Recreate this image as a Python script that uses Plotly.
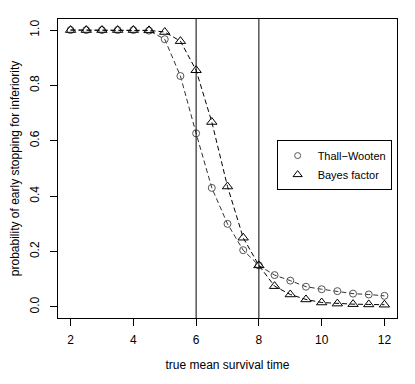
import plotly.graph_objects as go

mean_time = [2, 2.5, 3, 3.5, 4, 4.5, 5, 5.5, 6, 6.5, 7, 7.5, 8, 8.5, 9, 9.5, 10, 10.5, 11, 11.5, 12]
thall_wooten = [1.0, 1.0, 1.0, 1.0, 1.0, 0.998, 0.967, 0.834, 0.627, 0.43, 0.30, 0.205, 0.15,
                0.115, 0.095, 0.073, 0.064, 0.057, 0.048, 0.045, 0.04]
bayes_factor = [1.0, 1.0, 1.0, 1.0, 1.0, 0.999, 0.993, 0.96, 0.855, 0.668, 0.435, 0.25, 0.15,
                0.075, 0.045, 0.027, 0.016, 0.012, 0.01, 0.009, 0.008]
ref_lines = [6, 8]
x_ticks = [2, 4, 6, 8, 10, 12]
y_ticks = [0.0, 0.2, 0.4, 0.6, 0.8, 1.0]

font = "Liberation Sans, Arial, sans-serif"
fig = go.Figure()

fig.add_trace(go.Scatter(x=mean_time, y=thall_wooten, mode="lines+markers",
                         line=dict(color="#333", width=1, dash="5px,3px"),
                         marker=dict(symbol="circle-open", size=7, color="#555", line=dict(width=1)),
                         showlegend=False))
fig.add_trace(go.Scatter(x=mean_time, y=bayes_factor, mode="lines+markers",
                         line=dict(color="black", width=1, dash="5px,3px"),
                         marker=dict(symbol="triangle-up-open", size=9, color="black", line=dict(width=1)),
                         showlegend=False))
fig.add_trace(go.Scatter(x=[None], y=[None], mode="markers", name="Thall\u2212Wooten",
                         marker=dict(symbol="circle-open", size=6, color="#555", line=dict(width=1))))
fig.add_trace(go.Scatter(x=[None], y=[None], mode="markers", name="Bayes factor",
                         marker=dict(symbol="triangle-up-open", size=8, color="black", line=dict(width=1))))

for v in ref_lines:
    fig.add_shape(type="line", x0=v, x1=v, y0=0, y1=1, xref="x", yref="paper",
                  line=dict(color="black", width=1))

# page body has an 8px margin, so the figure is drawn 8px right/down
fig.update_layout(
    width=407, height=376,
    margin=dict(l=50, r=18, t=11, b=66),
    paper_bgcolor="white", plot_bgcolor="white",
    font=dict(family=font, size=12, color="black"),
    legend=dict(x=0.645, y=0.595, xanchor="left", yanchor="top",
                bordercolor="black", borderwidth=1, bgcolor="white",
                font=dict(size=11), itemwidth=30, tracegroupgap=0),
    xaxis=dict(range=[1.6, 12.4], tickvals=x_ticks, ticktext=[str(t) for t in x_ticks],
               showgrid=False, zeroline=False, showline=True, mirror=True, automargin=False,
               linecolor="black", linewidth=1, ticks="outside", ticklen=7,
               tickcolor="black", ticklabelstandoff=4,
               title=dict(text="true mean survival time", standoff=14, font=dict(size=12))),
    yaxis=dict(range=[-0.04, 1.04], tickvals=y_ticks, ticktext=[f"{t:.1f}" for t in y_ticks],
               tickangle=-90, automargin=False,
               showgrid=False, zeroline=False, showline=True, mirror=True,
               linecolor="black", linewidth=1, ticks="outside", ticklen=7,
               tickcolor="black", ticklabelstandoff=6,
               title=dict(text="probability of early stopping for inferiority", standoff=8,
                          font=dict(size=12))),
)

fig.write_html("out.html")
